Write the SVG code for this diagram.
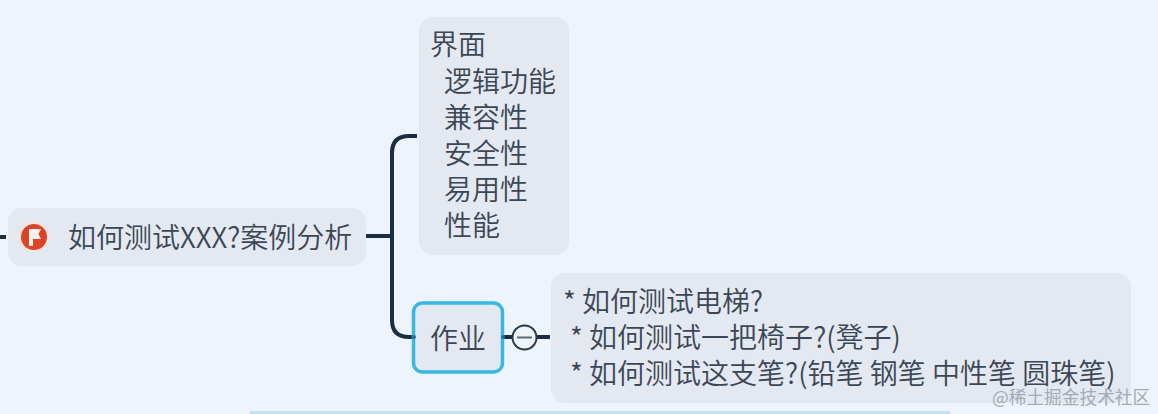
<svg xmlns="http://www.w3.org/2000/svg" width="1158" height="414" viewBox="0 0 1158 414">
<style>
text{font-family:"Noto Sans CJK SC","Liberation Sans",sans-serif;font-size:28px;font-weight:350;fill:#3c4755}
.box{fill:#e3e8f1}
.c{fill:none;stroke:#1c2d42;stroke-width:4;stroke-linecap:butt}
</style>
<rect width="1158" height="414" fill="#edf4fc"/>
<rect x="250" y="411" width="700" height="3" fill="#c4e4ec"/>
<g id="connectors">
<path class="c" d="M0 237H6"/>
<path class="c" d="M366 236H391"/>
<path class="c" d="M417 136H409Q392 136 392 153V320Q392 337 409 337H417"/>
<path class="c" d="M504 337H512"/>
<path class="c" d="M537 337H550"/>
</g>
<g id="root">
<rect class="box" x="8" y="208" width="358" height="58" rx="14"/>
<circle cx="34" cy="237" r="15" fill="#fbe3dc"/>
<circle cx="34" cy="237" r="13" fill="#dd4327"/>
<path d="M29 229H41L38.500 234L41 239H33V246H29Z" fill="#fdf1ec"/>
<text x="68" y="248">如何测试XXX?案例分析</text>
</g>
<g id="node-ui">
<rect class="box" x="419" y="17" width="150" height="238" rx="14"/>
<text x="430" y="55">界面</text>
<text x="444" y="92">逻辑功能</text>
<text x="444" y="128">兼容性</text>
<text x="444" y="164">安全性</text>
<text x="444" y="200">易用性</text>
<text x="444" y="236">性能</text>
</g>
<g id="node-homework">
<rect x="413.500" y="303" width="89" height="69" rx="9" fill="#e3e8f1" stroke="#38b7e4" stroke-width="3.500"/>
<circle cx="414" cy="337" r="2" fill="#1f6f9c"/>
<circle cx="503" cy="337" r="2" fill="#1f6f9c"/>
<text x="430" y="349">作业</text>
</g>
<g id="collapse">
<circle cx="524.500" cy="337.500" r="12" fill="#edf4fc" stroke="#2a3a4d" stroke-width="2"/>
<path d="M517 337.500H532" stroke="#5d6a78" stroke-width="2"/>
</g>
<g id="node-questions">
<rect class="box" x="551" y="273" width="580" height="130" rx="14"/>
<text x="563" y="312" xml:space="preserve">* 如何测试电梯?</text>
<text x="570" y="348" xml:space="preserve">* 如何测试一把椅子?(凳子)</text>
<text x="570" y="384" xml:space="preserve">* 如何测试这支笔?(铅笔 钢笔 中性笔 圆珠笔)</text>
</g>
<text x="992" y="404" style="font-size:17.700px;font-weight:400;fill:#a3abb5;font-family:'Noto Sans CJK SC',sans-serif">@稀土掘金技术社区</text>
</svg>
